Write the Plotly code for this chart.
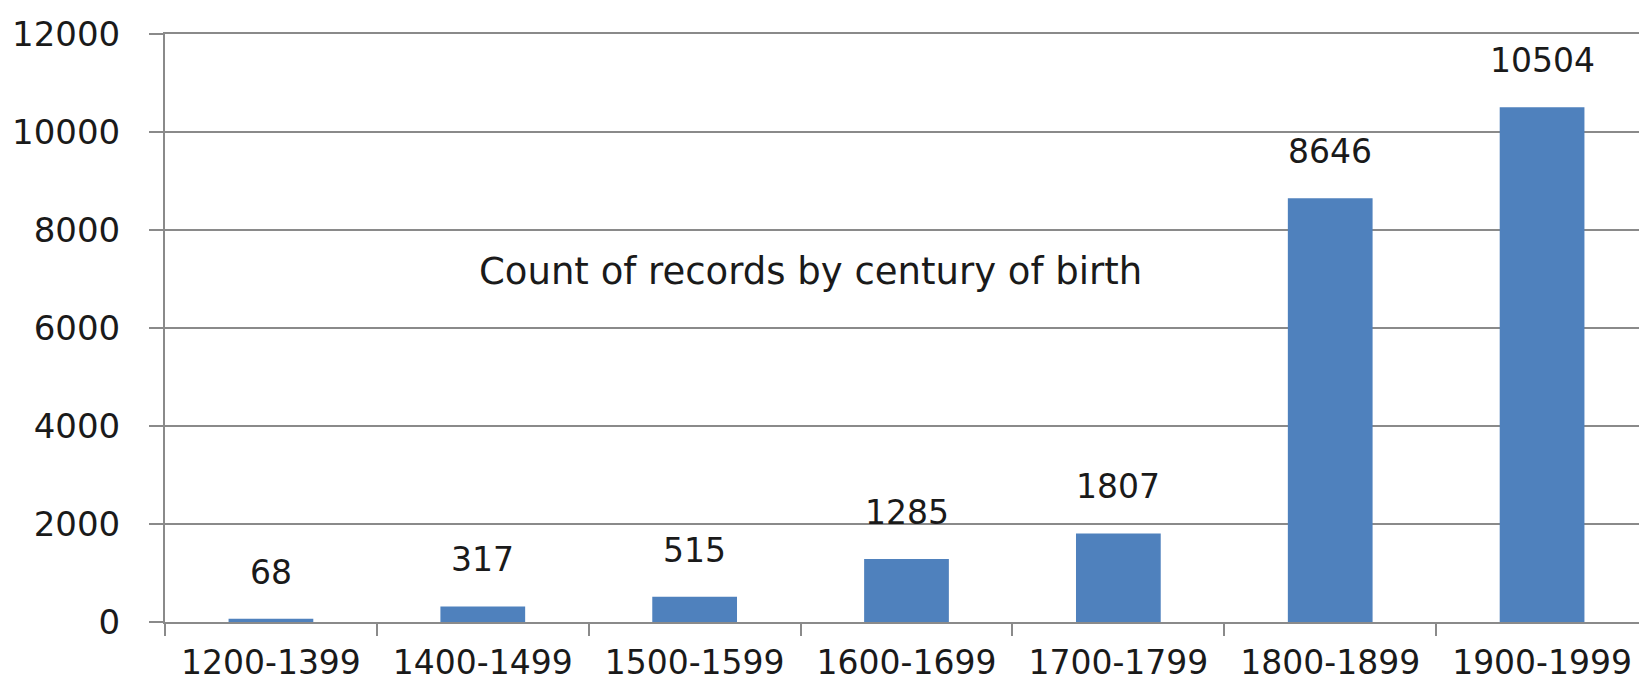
import plotly.graph_objects as go

categories = ["1200-1399", "1400-1499", "1500-1599", "1600-1699", "1700-1799", "1800-1899", "1900-1999"]
counts = [68, 317, 515, 1285, 1807, 8646, 10504]
y_ticks = [0, 2000, 4000, 6000, 8000, 10000, 12000]
y_tick_labels = ["0", "2000", "4000", "6000", "8000", "10000", "12000"]
title_text = "Count of records by century of birth"

FONT = "DejaVu Sans"
GRID = "#8a8a8a"
TXT = "#1a1a1a"

fig = go.Figure()
fig.add_trace(go.Bar(x=categories, y=counts, marker=dict(color="#4F81BD", line=dict(width=0)),
                     width=0.4, hoverinfo="x+y"))

for c, v in zip(categories, counts):
    fig.add_annotation(x=c, y=v, text=str(v), showarrow=False, yanchor="bottom",
                       yshift=25, font=dict(family=FONT, size=33, color=TXT))

fig.add_annotation(x=0.435, y=0.596, xref="paper", yref="paper", text=title_text,
                   showarrow=False, xanchor="center", yanchor="middle",
                   font=dict(family=FONT, size=37, color=TXT))

fig.update_layout(
    width=1647, height=682,
    margin=dict(l=157, r=7, t=26, b=68, autoexpand=False),
    paper_bgcolor="white", plot_bgcolor="white",
    showlegend=False,
    font=dict(family=FONT, size=33, color=TXT),
)
fig.update_xaxes(
    type="category", showgrid=False, showline=True, linecolor=GRID, linewidth=2,
    mirror=True, automargin=False,
    ticks="outside", tickson="boundaries", ticklen=12, tickcolor=GRID, tickwidth=2,
    tickfont=dict(family=FONT, size=33, color=TXT), ticklabelstandoff=10,
)
fig.update_yaxes(
    range=[0, 12000], tickvals=y_ticks, ticktext=y_tick_labels, showgrid=True,
    gridcolor=GRID, gridwidth=2, automargin=False,
    showline=True, linecolor=GRID, linewidth=2, zeroline=False,
    ticks="outside", ticklen=14, tickcolor=GRID, tickwidth=2,
    tickfont=dict(family=FONT, size=34, color=TXT), ticklabelstandoff=22,
)

fig.write_html("out.html")
